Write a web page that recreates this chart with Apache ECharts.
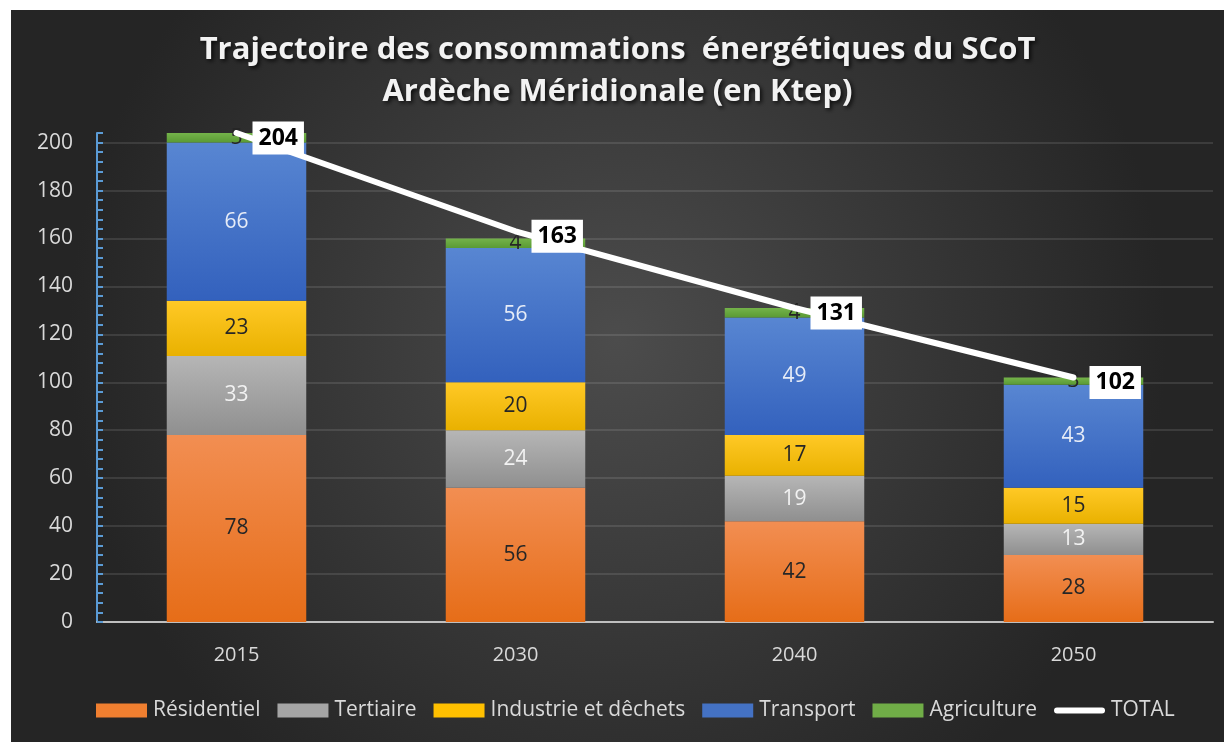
<!DOCTYPE html>
<html><head><meta charset="utf-8">
<script src="https://cdn.jsdelivr.net/npm/echarts@6/dist/echarts.min.js"></script>
<style>
html,body{margin:0;padding:0;background:#fff;width:1224px;height:742px;overflow:hidden;}
#c{position:absolute;left:11px;top:10px;width:1213px;height:732px;}
</style></head><body>
<div id="c"></div>
<script>
const categories = ['2015', '2030', '2040', '2050'];
const residentiel = [78, 56, 42, 28];
const tertiaire = [33, 24, 19, 13];
const industrie = [23, 20, 17, 15];
const transport = [66, 56, 49, 43];
const agriculture = [5, 4, 4, 3];
const total = [204, 163, 131, 102];
const yTicks = [0, 20, 40, 60, 80, 100, 120, 140, 160, 180, 200];

const FONT = 'Open Sans';
function grad(top, bottom) {
  return new echarts.graphic.LinearGradient(0, 0, 0, 1, [
    { offset: 0, color: top }, { offset: 1, color: bottom }
  ]);
}
function barSeries(name, data, top, bottom, labelColor) {
  return {
    name: name, type: 'bar', stack: 'tot', data: data, barWidth: '50%',
    itemStyle: { color: grad(top, bottom) },
    label: { show: true, position: 'inside', fontFamily: FONT, fontSize: 21, color: labelColor },
    emphasis: { disabled: true }
  };
}
const chart = echarts.init(document.getElementById('c'), null, { renderer: 'canvas' });
chart.setOption({
  animation: false,
  backgroundColor: new echarts.graphic.RadialGradient(0.5, 0.45, 0.75, [
    { offset: 0, color: '#4c4c4c' }, { offset: 1, color: '#252525' }
  ]),
  title: {
    text: 'Trajectoire des consommations  énergétiques du SCoT\nArdèche Méridionale (en Ktep)',
    left: 'center', top: 14,
    textStyle: {
      fontFamily: FONT, fontWeight: 'bold', fontSize: 31, lineHeight: 42, color: '#f2f2f2',
      textShadowColor: 'rgba(0,0,0,0.8)', textShadowBlur: 4, textShadowOffsetX: 2, textShadowOffsetY: 2
    }
  },
  grid: { left: 86, right: 11, top: 123, bottom: 120 },
  legend: {
    top: 685, left: 80, itemWidth: 51, itemHeight: 14, itemGap: 17,
    textStyle: { fontFamily: FONT, fontSize: 21, color: '#d9d9d9', padding: [0, 0, 0, 1] },
    data: [
      { name: 'Résidentiel', icon: 'rect', itemStyle: { color: '#f07f30' } },
      { name: 'Tertiaire', icon: 'rect', itemStyle: { color: '#a5a5a5' } },
      { name: 'Industrie et dêchets', icon: 'rect', itemStyle: { color: '#ffc000' } },
      { name: 'Transport', icon: 'rect', itemStyle: { color: '#4472c4' } },
      { name: 'Agriculture', icon: 'rect', itemStyle: { color: '#70ad47' } },
      { name: 'TOTAL', icon: 'path://M3.5,0 H56.5 A3.5,3.5 0 0 1 56.5,7 H3.5 A3.5,3.5 0 0 1 3.5,0 Z', itemStyle: { color: '#ffffff' } }
    ]
  },
  xAxis: {
    type: 'category', data: categories,
    axisLine: { lineStyle: { color: '#bfbfbf', width: 2 } },
    axisTick: { show: false },
    axisLabel: { fontFamily: FONT, fontSize: 20, color: '#d9d9d9', margin: 23 }
  },
  yAxis: {
    type: 'value', min: 0, max: 204, interval: 20,
    axisLine: { show: true, lineStyle: { color: '#5b9bd5', width: 2 } },
    axisTick: { show: true, inside: true, length: 6, lineStyle: { color: '#5b9bd5', width: 2 } },
    minorTick: { show: true, splitNumber: 5, length: 6, lineStyle: { color: '#5b9bd5', width: 2 } },
    axisLabel: {
      fontFamily: FONT, fontSize: 21, color: '#d9d9d9', margin: 24, showMaxLabel: false,
      formatter: function (v) { return yTicks.indexOf(v) >= 0 ? String(v) : ''; }
    },
    splitLine: { show: true, showMaxLine: false, lineStyle: { color: 'rgba(255,255,255,0.14)', width: 1.5 } }
  },
  series: [
    barSeries('Résidentiel', residentiel, '#f28e52', '#e66d18', '#262626'),
    barSeries('Tertiaire', tertiaire, '#b6b6b6', '#8f8f8f', '#f2f2f2'),
    barSeries('Industrie et dêchets', industrie, '#ffc926', '#e9b100', '#262626'),
    barSeries('Transport', transport, '#5886d2', '#3361bd', '#e6ecf7'),
    barSeries('Agriculture', agriculture, '#74b34a', '#5a9a34', '#262626'),
    {
      name: 'TOTAL', type: 'line', data: total, z: 5,
      symbol: 'circle', symbolSize: 2, showSymbol: true,
      itemStyle: { color: '#ffffff' },
      lineStyle: { color: '#ffffff', width: 6, cap: 'round' },
      label: {
        show: true, position: 'right', distance: 15, offset: [0, 5],
        fontFamily: FONT, fontWeight: 'bold', fontSize: 23, color: '#000000',
        backgroundColor: '#ffffff', padding: [3, 6, 2, 6], lineHeight: 28
      },
      emphasis: { disabled: true }
    }
  ]
});
</script>
</body></html>
